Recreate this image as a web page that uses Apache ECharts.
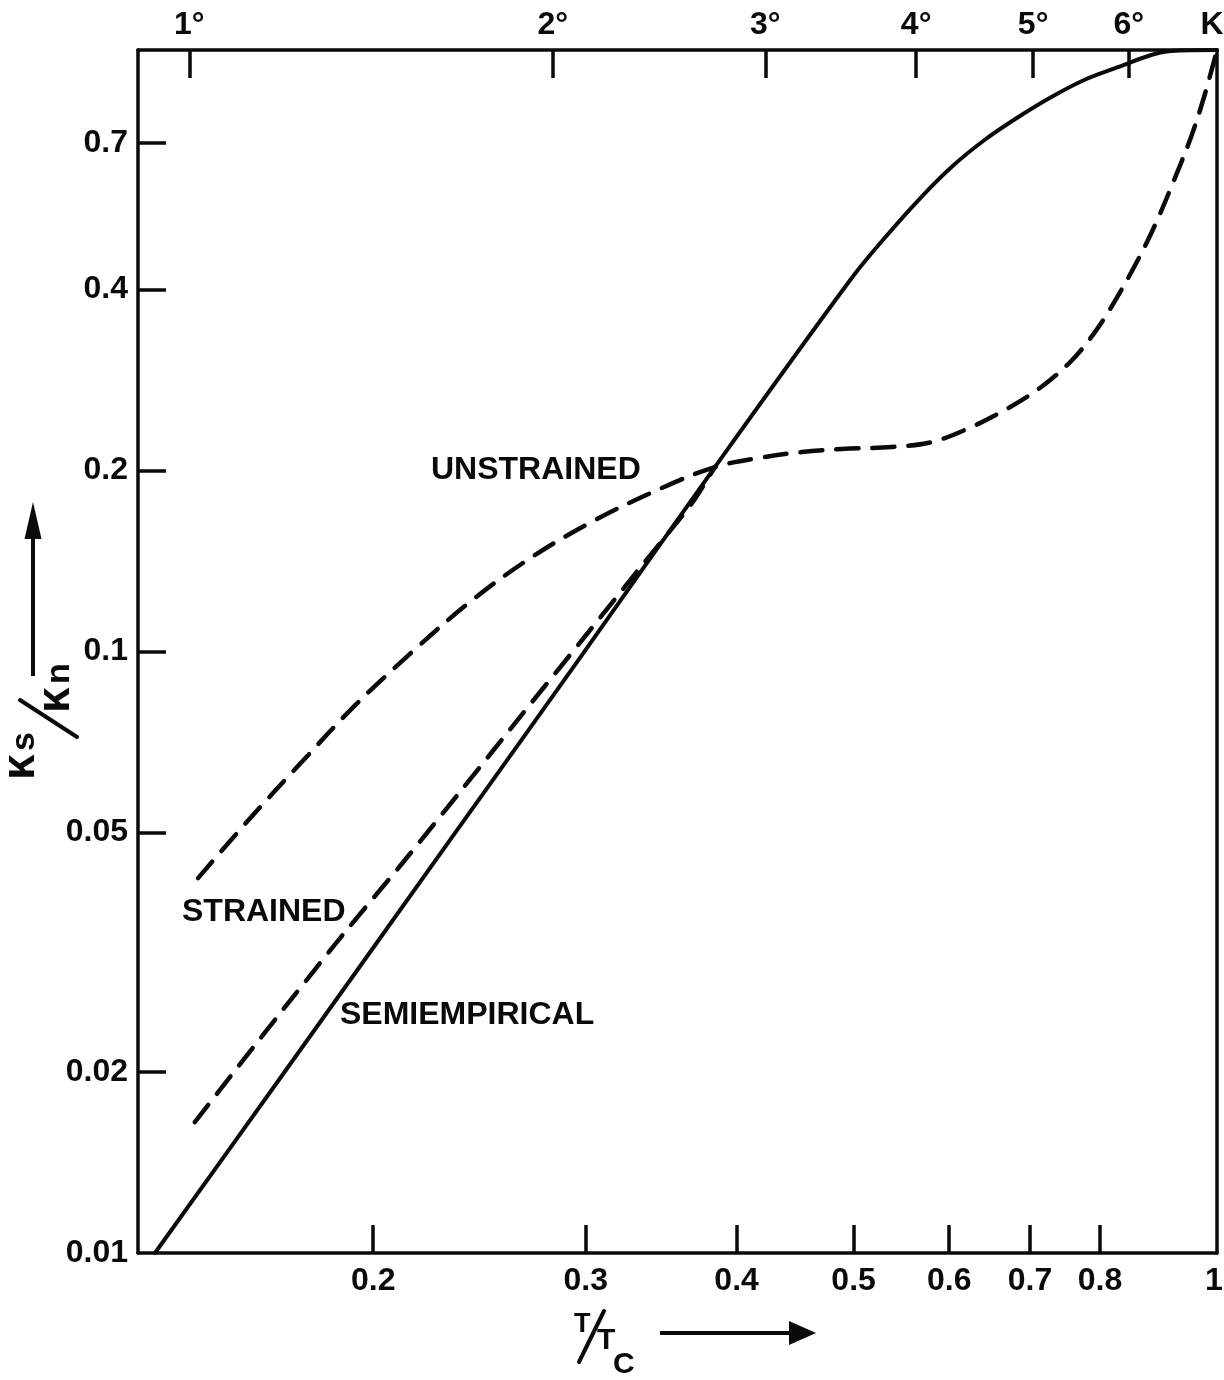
<!DOCTYPE html>
<html>
<head>
<meta charset="utf-8">
<script src="https://cdn.jsdelivr.net/npm/echarts@6/dist/echarts.min.js"></script>
<style>
  html, body { margin: 0; padding: 0; background: #fff; }
  #chart { width: 1224px; height: 1380px; }
</style>
</head>
<body>
<div id="chart"></div>
<script>
// Thermal conductivity ratio κs/κn against reduced temperature T/Tc (log–log)

// Semiempirical curve (solid)
const semiT = [0.1319, 0.1686, 0.2331, 0.2979, 0.3838, 0.4982, 0.5305, 0.5659, 0.6027,
               0.6418, 0.6846, 0.7291, 0.7762, 0.8287, 0.8820, 0.9161, 1.0];
const semiK = [0.0100, 0.0199, 0.0495, 0.0987, 0.2026, 0.4177, 0.4869, 0.5631, 0.6389,
               0.7085, 0.7737, 0.8353, 0.8916, 0.9370, 0.9810, 0.9960, 1.0];

// Unstrained specimen (dashed)
const unstrT = [0.1432, 0.1572, 0.1745, 0.1930, 0.2144, 0.2399, 0.2699, 0.3054, 0.3483,
                0.3838, 0.4174, 0.4530, 0.4888, 0.5376, 0.5801, 0.6259, 0.6718, 0.7152,
                0.7573, 0.7912, 0.8174, 0.8538, 0.8870, 0.9214, 0.9517, 0.9756, 1.0];
const unstrK = [0.0420, 0.0521, 0.0655, 0.0812, 0.0990, 0.1204, 0.1430, 0.1654, 0.1877,
                0.2026, 0.2098, 0.2146, 0.2171, 0.2188, 0.2229, 0.2361, 0.2540, 0.2753,
                0.3041, 0.3384, 0.3738, 0.4357, 0.5078, 0.6078, 0.7167, 0.8353, 1.0];

// Strained specimen (dashed), joins the unstrained curve near T/Tc = 0.38
const strT = [0.1423, 0.1560, 0.1705, 0.1887, 0.2115, 0.2371, 0.2658, 0.2979, 0.3341, 0.3674, 0.3838];
const strK = [0.0165, 0.0209, 0.0262, 0.0338, 0.0445, 0.0591, 0.0787, 0.1045, 0.1392, 0.1765, 0.2026];

// Axis ranges and tick marks
const T_MIN = 0.1277, T_MAX = 1.0;
const K_MIN = 0.01, K_MAX = 1.0;
const TC = 7.1; // critical temperature in K, for the upper scale

const xTickVals = [0.2, 0.3, 0.4, 0.5, 0.6, 0.7, 0.8, 1];
const xTickText = ['0.2', '0.3', '0.4', '0.5', '0.6', '0.7', '0.8', '1'];
const yTickVals = [0.01, 0.02, 0.05, 0.1, 0.2, 0.4, 0.7];
const yTickText = ['0.01', '0.02', '0.05', '0.1', '0.2', '0.4', '0.7'];
const kelvinVals = [1, 2, 3, 4, 5, 6, TC];
const kelvinText = ['1°', '2°', '3°', '4°', '5°', '6°', 'K'];

const FONT = "'Liberation Sans', Arial, sans-serif";
const INK = '#0a0a0a';

function nearestLabel(vals, texts) {
  return function (v) {
    let best = 0;
    for (let i = 1; i < vals.length; i++) {
      if (Math.abs(Math.log(vals[i] / v)) < Math.abs(Math.log(vals[best] / v))) best = i;
    }
    return texts[best];
  };
}

// The end labels ("1" and "K") sit a few pixels inside the frame so they are not cut off
const nudgeIn = (v, px) => v * Math.pow(10, -px / 1207);

const pairs = (xs, ys) => xs.map((x, i) => [x, ys[i]]);

const axisLine = { show: true, lineStyle: { color: INK, width: 3.5 } };
const labelBase = { color: INK, fontFamily: FONT, fontWeight: 'bold', fontSize: 32 };
const tickBase = { inside: true, length: 28, lineStyle: { color: INK, width: 3.5 } };

const bottomLabelVals = xTickVals.slice(0, -1).concat([nudgeIn(T_MAX, 3)]);
const topLabelVals = kelvinVals.slice(0, -1).concat([nudgeIn(TC, 5)]);

const chart = echarts.init(document.getElementById('chart'), null, { renderer: 'canvas' });

chart.setOption({
  animation: false,
  backgroundColor: '#ffffff',
  grid: { left: 138, right: 7, top: 50, bottom: 127, containLabel: false, outerBoundsMode: 'none' },
  xAxis: [
    {
      type: 'log', logBase: 10, position: 'bottom', min: T_MIN, max: T_MAX,
      axisLine: axisLine,
      axisTick: Object.assign({}, tickBase, { customValues: xTickVals.slice(0, -1) }),
      axisLabel: Object.assign({}, labelBase, {
        margin: 12, customValues: bottomLabelVals, showMinLabel: true, showMaxLabel: true,
        formatter: nearestLabel(xTickVals, xTickText)
      }),
      splitLine: { show: false }, minorTick: { show: false }
    },
    {
      type: 'log', logBase: 10, position: 'top', min: T_MIN * TC, max: T_MAX * TC,
      axisLine: axisLine,
      axisTick: Object.assign({}, tickBase, { customValues: kelvinVals.slice(0, -1) }),
      axisLabel: Object.assign({}, labelBase, {
        margin: 9, customValues: topLabelVals, showMinLabel: true, showMaxLabel: true,
        formatter: nearestLabel(kelvinVals, kelvinText)
      }),
      splitLine: { show: false }, minorTick: { show: false }
    }
  ],
  yAxis: [
    {
      type: 'log', logBase: 10, position: 'left', min: K_MIN, max: K_MAX,
      axisLine: axisLine,
      axisTick: Object.assign({}, tickBase, { customValues: yTickVals.slice(1) }),
      axisLabel: Object.assign({}, labelBase, {
        margin: 10, customValues: yTickVals, showMinLabel: true,
        formatter: nearestLabel(yTickVals, yTickText)
      }),
      splitLine: { show: false }, minorTick: { show: false }
    },
    {
      type: 'log', logBase: 10, position: 'right', min: K_MIN, max: K_MAX,
      axisLine: axisLine,
      axisTick: { show: false }, axisLabel: { show: false },
      splitLine: { show: false }, minorTick: { show: false }
    }
  ],
  series: [
    {
      name: 'SEMIEMPIRICAL', type: 'line', xAxisIndex: 0, yAxisIndex: 0,
      data: pairs(semiT, semiK), showSymbol: false, smooth: 0.35,
      lineStyle: { color: INK, width: 4, cap: 'round', join: 'round' }, silent: true
    },
    {
      name: 'UNSTRAINED', type: 'line', xAxisIndex: 0, yAxisIndex: 0,
      data: pairs(unstrT, unstrK), showSymbol: false, smooth: 0.35,
      lineStyle: { color: INK, width: 4.5, type: [22, 14], cap: 'round', join: 'round' }, silent: true
    },
    {
      name: 'STRAINED', type: 'line', xAxisIndex: 0, yAxisIndex: 0,
      data: pairs(strT, strK), showSymbol: false, smooth: 0.2,
      lineStyle: { color: INK, width: 4.5, type: [22, 14], cap: 'round', join: 'round' }, silent: true
    }
  ],
  graphic: [
    // curve captions
    { type: 'text', x: 431, y: 470, silent: true,
      style: { text: 'UNSTRAINED', font: 'bold 32px ' + FONT, fill: INK,
               textAlign: 'left', textVerticalAlign: 'middle', align: 'left', verticalAlign: 'middle' } },
    { type: 'text', x: 182, y: 912, silent: true,
      style: { text: 'STRAINED', font: 'bold 32px ' + FONT, fill: INK,
               textAlign: 'left', textVerticalAlign: 'middle', align: 'left', verticalAlign: 'middle' } },
    { type: 'text', x: 340, y: 1015, silent: true,
      style: { text: 'SEMIEMPIRICAL', font: 'bold 32px ' + FONT, fill: INK,
               textAlign: 'left', textVerticalAlign: 'middle', align: 'left', verticalAlign: 'middle' } },

    // vertical axis title κs/κn, reading upward
    { type: 'group', x: 37, y: 780, rotation: Math.PI / 2, silent: true, children: [
      { type: 'text', x: 0, y: -16,
        style: { text: 'κ', font: 'bold 46px ' + FONT, fill: INK,
                 textAlign: 'left', textVerticalAlign: 'middle', align: 'left', verticalAlign: 'middle' } },
      { type: 'text', x: 29, y: -12,
        style: { text: 's', font: 'bold 34px ' + FONT, fill: INK,
                 textAlign: 'left', textVerticalAlign: 'middle', align: 'left', verticalAlign: 'middle' } },
      { type: 'line', shape: { x1: 43, y1: 40, x2: 80, y2: -17 },
        style: { stroke: INK, lineWidth: 4, lineCap: 'round' } },
      { type: 'text', x: 67, y: 19,
        style: { text: 'κ', font: 'bold 46px ' + FONT, fill: INK,
                 textAlign: 'left', textVerticalAlign: 'middle', align: 'left', verticalAlign: 'middle' } },
      { type: 'text', x: 96, y: 23,
        style: { text: 'n', font: 'bold 34px ' + FONT, fill: INK,
                 textAlign: 'left', textVerticalAlign: 'middle', align: 'left', verticalAlign: 'middle' } }
    ] },
    { type: 'line', silent: true, shape: { x1: 33, y1: 676, x2: 33, y2: 532 },
      style: { stroke: INK, lineWidth: 4 } },
    { type: 'polygon', silent: true, shape: { points: [[33, 502], [24.5, 539], [41.5, 539]] },
      style: { fill: INK } },

    // horizontal axis title T/Tc with arrow
    { type: 'text', x: 574, y: 1325, silent: true,
      style: { text: 'T', font: 'bold 27px ' + FONT, fill: INK,
               textAlign: 'left', textVerticalAlign: 'middle', align: 'left', verticalAlign: 'middle' } },
    { type: 'line', silent: true, shape: { x1: 579, y1: 1362, x2: 604, y2: 1311 },
      style: { stroke: INK, lineWidth: 4, lineCap: 'round' } },
    { type: 'text', x: 597, y: 1341, silent: true,
      style: { text: 'T', font: 'bold 30px ' + FONT, fill: INK,
               textAlign: 'left', textVerticalAlign: 'middle', align: 'left', verticalAlign: 'middle' } },
    { type: 'text', x: 613, y: 1365, silent: true,
      style: { text: 'C', font: 'bold 30px ' + FONT, fill: INK,
               textAlign: 'left', textVerticalAlign: 'middle', align: 'left', verticalAlign: 'middle' } },
    { type: 'line', silent: true, shape: { x1: 660, y1: 1333, x2: 795, y2: 1333 },
      style: { stroke: INK, lineWidth: 4 } },
    { type: 'polygon', silent: true, shape: { points: [[816, 1333], [789, 1321], [789, 1345]] },
      style: { fill: INK } }
  ]
});
</script>
</body>
</html>
